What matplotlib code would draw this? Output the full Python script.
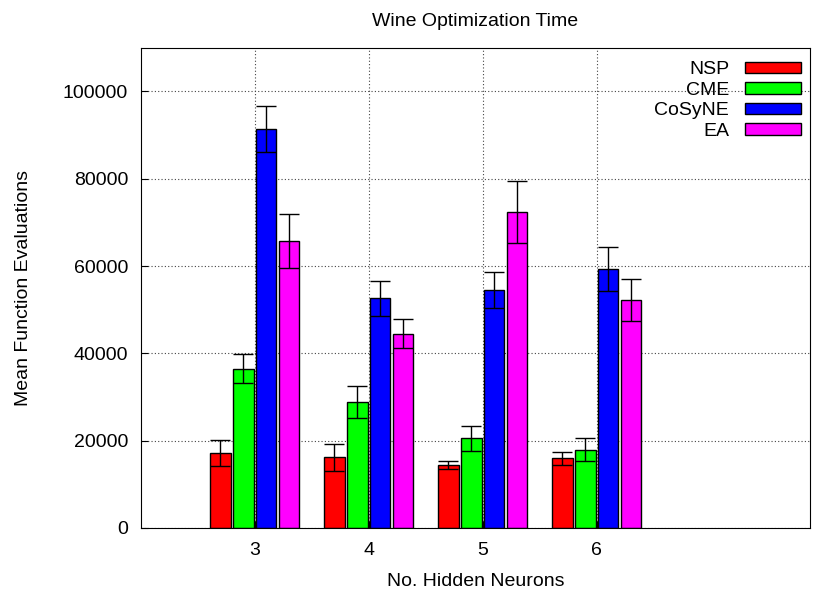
import matplotlib
matplotlib.use('Agg')
import numpy as np
import matplotlib.pyplot as plt

plt.rcParams['font.family'] = ['Liberation Sans', 'DejaVu Sans']

neurons = [3, 4, 5, 6]
methods = ['NSP', 'CME', 'CoSyNE', 'EA']
colors = ['#ff0000', '#00ff00', '#0000ff', '#ff00ff']

# mean function evaluations per method, one value per hidden-neuron count
nsp_mean = [17100, 16200, 14400, 15900]
cme_mean = [36500, 28800, 20500, 17900]
cosyne_mean = [91400, 52600, 54500, 59300]
ea_mean = [65800, 44500, 72300, 52300]

nsp_err = [3000, 3100, 900, 1500]
cme_err = [3300, 3700, 2800, 2700]
cosyne_err = [5200, 4000, 4100, 5000]
ea_err = [6200, 3400, 7100, 4800]

means = [nsp_mean, cme_mean, cosyne_mean, ea_mean]
errs = [nsp_err, cme_err, cosyne_err, ea_err]

fig, ax = plt.subplots(figsize=(8.18, 5.91), dpi=100)
fig.subplots_adjust(left=0.172, right=0.990, top=0.919, bottom=0.107)

x = np.array(neurons, dtype=float)
offsets = [-0.3, -0.1, 0.1, 0.3]
for m, c, off, err, name in zip(means, colors, offsets, errs, methods):
    ax.bar(x + off, m, width=0.18, color=c, edgecolor='black', linewidth=1.0,
           label=name, zorder=2)
    ax.errorbar(x + off, m, yerr=err, fmt='none', ecolor='black',
                elinewidth=1.0, capsize=7.5, capthick=1.0, zorder=3)

ax.set_xlim(2, 7.87)
ax.set_ylim(0, 110000)
ax.set_xticks(neurons)
ax.set_yticks(range(0, 100001, 20000))
ax.tick_params(direction='in', labelsize=14, length=5, top=False, right=False)
ax.tick_params(axis='x', pad=10)
ax.tick_params(axis='y', pad=9)
ax.grid(True, linestyle=(0, (1, 2)), color='#444444', linewidth=0.8, zorder=0)
ax.set_axisbelow(True)

ax.set_title('Wine Optimization Time', fontsize=14, pad=16)
ax.set_xlabel('No. Hidden Neurons', fontsize=14, labelpad=10)
ax.set_ylabel('Mean Function Evaluations', fontsize=14, labelpad=22)

ax.legend(loc='upper right', bbox_to_anchor=(1.0, 0.99), frameon=False,
          markerfirst=False, fontsize=14, handlelength=2.9, handleheight=0.52,
          labelspacing=0.18, borderpad=0.15, borderaxespad=0.3,
          handletextpad=0.8)

fig.savefig('out.png', dpi=100)
